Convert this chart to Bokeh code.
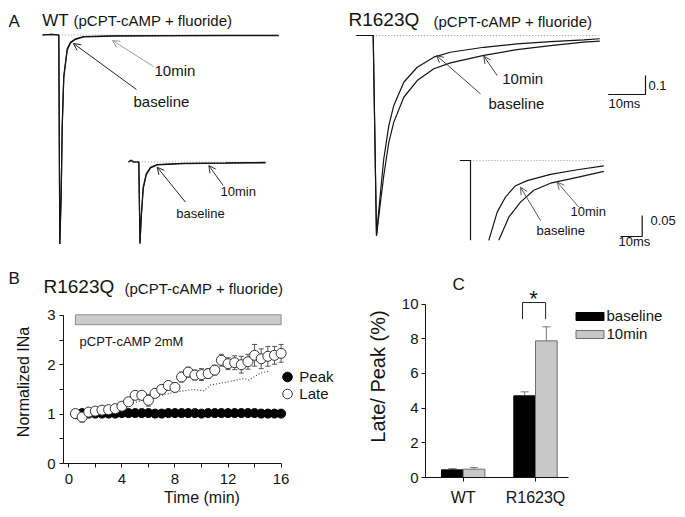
from jinja2 import Template
from bokeh.plotting import figure
from bokeh.models import (Range1d, Arrow, OpenHead, Whisker, TeeHead, ColumnDataSource,
                          FixedTicker, Legend, LegendItem)
from bokeh.core.properties import value
from bokeh.embed import file_html
from bokeh.resources import INLINE

FONT = "Liberation Sans"
INK = "#141414"
nan = float("nan")

# ---------------- Panel A: current traces (time in ms, normalized current) ----------------
wt_t = [-4.4, -2.0, 0.0, 0.27, 0.65, 0.92, 1.35, 2.27, 3.16, 4.51, 6.76, 14.9, 30.0, 45.0, 59.4]
wt_base = [0.0, 0.003, 0.0, -1.10, -0.83, -0.476, -0.213, -0.073, -0.038, -0.020, -0.008, -0.004, -0.003, -0.002, -0.002]
wt_10min = [0.0, 0.003, 0.0, -1.10, -0.84, -0.49, -0.225, -0.080, -0.042, -0.023, -0.010, -0.006, -0.004, -0.003, -0.003]

wti_t = [-4.75, -3.5, -2.5, 0.0, 0.55, 1.1, 2.03, 3.41, 5.39, 8.48, 20.7, 40.0, 58.4]
wti_base = [0.0, 0.004, 0.0, 0.0, -0.194, -0.131, -0.060, -0.028, -0.0124, -0.006, -0.003, -0.002, -0.001]
wti_10min = [0.0, 0.004, 0.0, 0.0, -0.194, -0.135, -0.064, -0.031, -0.014, -0.007, -0.004, -0.003, -0.002]

r_t = [-4.5, 0.0, 0.89, 1.97, 2.86, 4.22, 5.57, 8.27, 11.89, 16.38, 20.89, 29.89, 38.84, 47.92, 56.92, 61.24]
r_base = [0.0, 0.0, -1.053, -0.825, -0.649, -0.474, -0.368, -0.246, -0.167, -0.114, -0.088, -0.062, -0.044, -0.032, -0.023, -0.017]
r_10min = [0.0, 0.0, -1.053, -0.877, -0.737, -0.562, -0.456, -0.325, -0.237, -0.175, -0.144, -0.105, -0.074, -0.053, -0.035, -0.030]

ri_t_base = [-4.93, -0.8, 0.0, 0.0, nan, 8.43, 12.3, 16.13, 20.74, 26.13, 36.87, 49.17, 61.43]
ri_base = [0.0, 0.0, 0.0, -0.19, nan, -0.19, -0.123, -0.087, -0.060, -0.048, -0.033, -0.022, -0.013]
ri_t_10min = [13.04, 17.65, 23.04, 29.17, 36.87, 49.17, 61.43]
ri_10min = [-0.19, -0.135, -0.099, -0.071, -0.054, -0.040, -0.026]

# ---------------- Panel B: time course ----------------
time_min = [0.5, 1.0, 1.5, 2.0, 2.5, 3.0, 3.5, 4.0, 4.5, 5.0, 5.5, 6.0, 6.5, 7.0, 7.5, 8.0,
            8.5, 9.0, 9.5, 10.0, 10.5, 11.0, 11.5, 12.0, 12.5, 13.0, 13.5, 14.0, 14.5, 15.0, 15.5, 16.0]
peak = [1.00, 1.02, 1.01, 1.01, 1.01, 1.01, 1.01, 1.02, 1.02, 1.02, 1.02, 1.02, 1.01, 1.01, 1.02, 1.02,
        1.02, 1.02, 1.02, 1.01, 1.02, 1.02, 1.02, 1.02, 1.02, 1.02, 1.02, 1.02, 1.01, 1.01, 1.01, 1.01]
late = [1.01, 0.94, 1.04, 1.06, 1.08, 1.09, 1.11, 1.16, 1.25, 1.38, 1.38, 1.28, 1.42, 1.50, 1.58, 1.54,
        1.75, 1.85, 1.79, 1.80, 1.82, 1.89, 2.09, 2.02, 2.04, 2.00, 2.06, 2.19, 2.12, 2.17, 2.19, 2.23]
late_err = [0.0, 0.10, 0.05, 0.06, 0.06, 0.06, 0.06, 0.07, 0.07, 0.08, 0.08, 0.12, 0.08, 0.08, 0.08, 0.08,
            0.10, 0.10, 0.10, 0.12, 0.10, 0.10, 0.12, 0.12, 0.14, 0.17, 0.15, 0.22, 0.20, 0.20, 0.18, 0.18]
dotted_t = [4.0, 4.78, 5.91, 6.91, 8.17, 9.42, 10.17, 10.68, 11.94, 13.19, 13.56, 14.45, 15.07]
dotted_v = [1.13, 1.21, 1.32, 1.38, 1.45, 1.50, 1.47, 1.59, 1.65, 1.72, 1.69, 1.83, 1.87]
drug_on, drug_off = 0.5, 16.0
drug_band = [2.81, 3.01]
drug_label = "pCPT-cAMP 2mM"

# ---------------- Panel C: late/peak ratio ----------------
groups = ["WT", "R1623Q"]
base_vals = [0.44, 4.71]
base_err = [0.07, 0.23]
ten_vals = [0.48, 7.88]
ten_err = [0.09, 0.81]


# ---------------- helpers ----------------
def xr(x0, w, anchor, s):
    return Range1d((x0 - anchor) / s, (x0 + w - anchor) / s)


def yr(y0, h, anchor, s):
    return Range1d((anchor - (y0 + h)) / s, (anchor - y0) / s)


def txt(p, x, y, s, size, color=INK, align="left", rx="px", ry="py"):
    p.text(x=[x], y=[y], text=[s], text_font=value(FONT), text_font_size=size,
           text_color=color, text_align=align, text_baseline="middle",
           x_range_name=rx, y_range_name=ry)


def arr(p, x0, y0, x1, y1, color):
    p.add_layout(Arrow(end=OpenHead(size=7, line_color=color, line_width=1),
                       line_color=color, line_width=1,
                       x_start=x0, y_start=y0, x_end=x1, y_end=y1,
                       x_range_name="px", y_range_name="py"))


def blank(name, X0, Y0, W, H, main_anchor, inset_anchor):
    (mx, my), (ix, iy) = main_anchor, inset_anchor
    p = figure(name=name, width=W, height=H, title=None, toolbar_location=None, output_backend="svg",
               x_axis_location=None, y_axis_location=None, min_border=0,
               x_range=xr(X0, W, mx, 3.7), y_range=yr(Y0, H, my, 190.0))
    p.extra_x_ranges = {"ix": xr(X0, W, ix, 2.17), "px": Range1d(X0, X0 + W)}
    p.extra_y_ranges = {"iy": yr(Y0, H, iy, 420.0), "py": Range1d(Y0 + H, Y0)}
    p.grid.visible = False
    p.outline_line_color = None
    p.background_fill_color = "white"
    return p


def traces(p, t, a, b, ti, ai, bi_t, bi):
    p.line([0, t[-1]], [0, 0], line_color="#9a9a9a", line_dash="1 2", line_width=1)
    p.line([0, ti[-1]], [0, 0], line_color="#9a9a9a", line_dash="1 2", line_width=1,
           x_range_name="ix", y_range_name="iy")
    p.line(t, a, line_color=INK, line_width=1.2)
    p.line(t, b, line_color=INK, line_width=1.2)
    p.line(ti, ai, line_color=INK, line_width=1.2, x_range_name="ix", y_range_name="iy")
    p.line(bi_t, bi, line_color=INK, line_width=1.2, x_range_name="ix", y_range_name="iy")


# ---------------- Panel A left (WT) + B heading ----------------
pAL = blank("al", 8, 8, 337, 300, (58.3, 34.5), (138.3, 161.5))
traces(pAL, wt_t, wt_base, wt_10min, wti_t, wti_base, wti_t, wti_10min)
txt(pAL, 8, 21, "A", "17px")
txt(pAL, 41.7, 19.5, "WT", "17px")
txt(pAL, 73, 19.8, "(pCPT-cAMP + fluoride)", "15px")
txt(pAL, 154, 70, "10min", "15px")
txt(pAL, 133, 101, "baseline", "15px")
txt(pAL, 220, 191, "10min", "13px")
txt(pAL, 175.7, 213, "baseline", "13px")
arr(pAL, 136, 89, 73, 43, "#222222")
arr(pAL, 153, 66, 112, 40, "#9a9a9a")
arr(pAL, 185, 201.7, 156.7, 166.7, "#222222")
arr(pAL, 222.7, 185, 208.3, 165, "#333333")
txt(pAL, 8, 278, "B", "17px")
txt(pAL, 43, 286.2, "R1623Q", "19px")
txt(pAL, 124, 287.6, "(pCPT-cAMP + fluoride)", "15px")

# ---------------- Panel A right (R1623Q) ----------------
pAR = blank("ar", 345, 8, 332, 264, (372.7, 35.0), (470.0, 160.0))
traces(pAR, r_t, r_base, r_10min, ri_t_base, ri_base, ri_t_10min, ri_10min)
txt(pAR, 348, 19.4, "R1623Q", "19px")
txt(pAR, 433, 20.6, "(pCPT-cAMP + fluoride)", "15px")
txt(pAR, 501.7, 78.3, "10min", "15px")
txt(pAR, 488, 103, "baseline", "15px")
txt(pAR, 570, 211, "10min", "13px")
txt(pAR, 536, 230, "baseline", "13px")
arr(pAR, 496.7, 75, 483.3, 55.7, "#444444")
arr(pAR, 480, 93.3, 436, 55, "#444444")
arr(pAR, 540, 220, 520, 186.7, "#555555")
arr(pAR, 578.3, 206.7, 556.7, 181.7, "#666666")
# scale bars
pAR.line([607.7, 645, 645], [94, 94, 75], line_color=INK, line_width=1.2, x_range_name="px", y_range_name="py")
pAR.line([620, 641.7, 641.7], [236, 236, 215], line_color=INK, line_width=1.2, x_range_name="px", y_range_name="py")
txt(pAR, 648, 85, "0.1", "13px")
txt(pAR, 608, 103, "10ms", "13px")
txt(pAR, 650, 220, "0.05", "13px")
txt(pAR, 618, 241, "10ms", "13px")


def style_axis(ax, size="15px"):
    ax.axis_line_color = INK
    ax.major_tick_line_color = INK
    ax.minor_tick_line_color = INK
    ax.major_tick_in = 0
    ax.major_tick_out = 4
    ax.minor_tick_in = 0
    ax.minor_tick_out = 4
    ax.major_label_text_font = FONT
    ax.major_label_text_font_size = size
    ax.major_label_text_color = INK
    ax.axis_label_text_font = FONT
    ax.axis_label_text_font_style = "normal"
    ax.axis_label_text_color = INK


# ---------------- Panel B ----------------
pB = figure(name="pb", width=337, height=214, title=None, toolbar_location=None, output_backend="svg",
            x_range=Range1d((63 - 68.3) / 13.27, (340 - 68.3) / 13.27),
            y_range=Range1d(0, (463 - 300) / 49.4),
            min_border_left=55, min_border_right=5, min_border_top=3, min_border_bottom=48)
pB.grid.visible = False
pB.outline_line_color = None
pB.border_fill_color = None
pB.background_fill_color = None
xa = pB.xaxis[0]
style_axis(xa)
xa.ticker = FixedTicker(ticks=[0, 4, 8, 12, 16], minor_ticks=[2, 6, 10, 14])
xa.bounds = ((63 - 68.3) / 13.27, 16)
xa.axis_label = "Time (min)"
xa.axis_label_text_font_size = "16px"
xa.major_label_standoff = 6
xa.axis_label_standoff = 2
ya = pB.yaxis[0]
style_axis(ya)
ya.ticker = FixedTicker(ticks=[0, 1, 2, 3], minor_ticks=[0.5, 1.5, 2.5])
ya.bounds = (0, 3)
ya.axis_label = "Normalized INa"
ya.axis_label_text_font_size = "16px"
ya.major_label_standoff = 4
ya.axis_label_standoff = 12

pB.quad(left=[drug_on], right=[drug_off], bottom=[drug_band[0]], top=[drug_band[1]],
        fill_color="#cccccc", line_color="#8c8c8c", line_width=1)
pB.text(x=[0.81], y=[2.47], text=[drug_label], text_font=value(FONT), text_font_size="13px",
        text_color=INK, text_baseline="middle")
pB.line(dotted_t, dotted_v, line_color="#444444", line_dash="1 2", line_width=1.2)
srcB = ColumnDataSource(dict(t=time_min, late=late, peak=peak,
                             lo=[v - e for v, e in zip(late, late_err)],
                             up=[v + e for v, e in zip(late, late_err)]))
pB.add_layout(Whisker(source=srcB, base="t", lower="lo", upper="up", line_color="#555555",
                      line_width=1, level="underlay",
                      upper_head=TeeHead(size=5, line_color="#555555", line_width=1),
                      lower_head=TeeHead(size=5, line_color="#555555", line_width=1)))
r_peak = pB.scatter("t", "peak", source=srcB, size=9, marker="circle",
                    fill_color="black", line_color="black")
r_late = pB.scatter("t", "late", source=srcB, size=10, marker="circle",
                    fill_color="white", line_color="#333333", line_width=1)
for lab, rend, vy in (("Peak", r_peak, 73.8), ("Late", r_late, 57.5)):
    pB.add_layout(Legend(items=[LegendItem(label=lab, renderers=[rend])], location=(212.3, vy),
                         glyph_width=24, glyph_height=25, label_height=25, label_standoff=0,
                         padding=0, margin=0, spacing=0, border_line_color=None,
                         background_fill_alpha=0, label_text_font=FONT,
                         label_text_font_size="15px", label_text_color=INK))

# ---------------- Panel C ----------------
pC = figure(name="pc", width=332, height=239, title=None, toolbar_location=None, output_backend="svg",
            x_range=Range1d((425 - 462.7) / 72.3, (674 - 462.7) / 72.3),
            y_range=Range1d(0, (477 - 275) / 17.34),
            min_border_left=80, min_border_right=3, min_border_top=3, min_border_bottom=34)
pC.grid.visible = False
pC.outline_line_color = None
pC.border_fill_color = None
pC.background_fill_color = None
pC.extra_x_ranges = {"px": Range1d(425, 674)}
pC.extra_y_ranges = {"py": Range1d(477, 275)}
cx = pC.xaxis[0]
style_axis(cx, "16px")
cx.ticker = FixedTicker(ticks=list(range(len(groups))))
cx.major_label_overrides = {i: g for i, g in enumerate(groups)}
cx.bounds = ((425 - 462.7) / 72.3, 1.46)
cx.major_label_standoff = 7
cy = pC.yaxis[0]
style_axis(cy)
cy.ticker = FixedTicker(ticks=[0, 2, 4, 6, 8, 10])
cy.bounds = (0, 10)
cy.axis_label = "Late/ Peak (%)"
cy.axis_label_text_font_size = "20px"
cy.major_label_standoff = 3
cy.axis_label_standoff = 10

W = 0.3
xb = [i - W / 2 for i in range(len(groups))]
xt = [i + W / 2 for i in range(len(groups))]
srcC = ColumnDataSource(dict(xb=xb, xt=xt, b=base_vals, t=ten_vals,
                             bu=[v + e for v, e in zip(base_vals, base_err)],
                             tu=[v + e for v, e in zip(ten_vals, ten_err)]))
r_b = pC.vbar(x="xb", top="b", width=W, source=srcC, fill_color="black", line_color="black")
r_t10 = pC.vbar(x="xt", top="t", width=W, source=srcC, fill_color="#c8c8c8", line_color="#6e6e6e")
for base, lo, up in (("xb", "b", "bu"), ("xt", "t", "tu")):
    pC.add_layout(Whisker(source=srcC, base=base, lower=lo, upper=up, line_color="#777777",
                          line_width=1, lower_head=None,
                          upper_head=TeeHead(size=8, line_color="#777777", line_width=1)))
pC.line([0.82, 0.82, 1.14, 1.14], [9.13, 10.09, 10.09, 9.13], line_color="#222222", line_width=1)
txt(pC, 533, 298, "*", "22px", align="center")
txt(pC, 452, 284, "C", "17px")
for lab, rend, vy in (("baseline", r_b, 153.0), ("10min", r_t10, 135.0)):
    pC.add_layout(Legend(items=[LegendItem(label=lab, renderers=[rend])], location=(146.5, vy),
                         glyph_width=35, glyph_height=10, label_height=10, label_standoff=0,
                         padding=0, margin=0, spacing=0, border_line_color=None,
                         background_fill_alpha=0, label_text_font=FONT,
                         label_text_font_size="15px", label_text_color=INK))

# Each panel is placed at its own page position (no automatic frame alignment).
PAGE = Template("""{% extends base %}
{% block contents %}
{% from macros import embed %}
<div style="position:absolute; left:8px; top:8px;">{{ embed(roots.al) }}</div>
<div style="position:absolute; left:345px; top:8px;">{{ embed(roots.ar) }}</div>
<div style="position:absolute; left:8px; top:297px;">{{ embed(roots.pb) }}</div>
<div style="position:absolute; left:345px; top:272px;">{{ embed(roots.pc) }}</div>
{% endblock %}
""")
open("out.html", "w").write(file_html([pAL, pAR, pB, pC], INLINE, template=PAGE))
